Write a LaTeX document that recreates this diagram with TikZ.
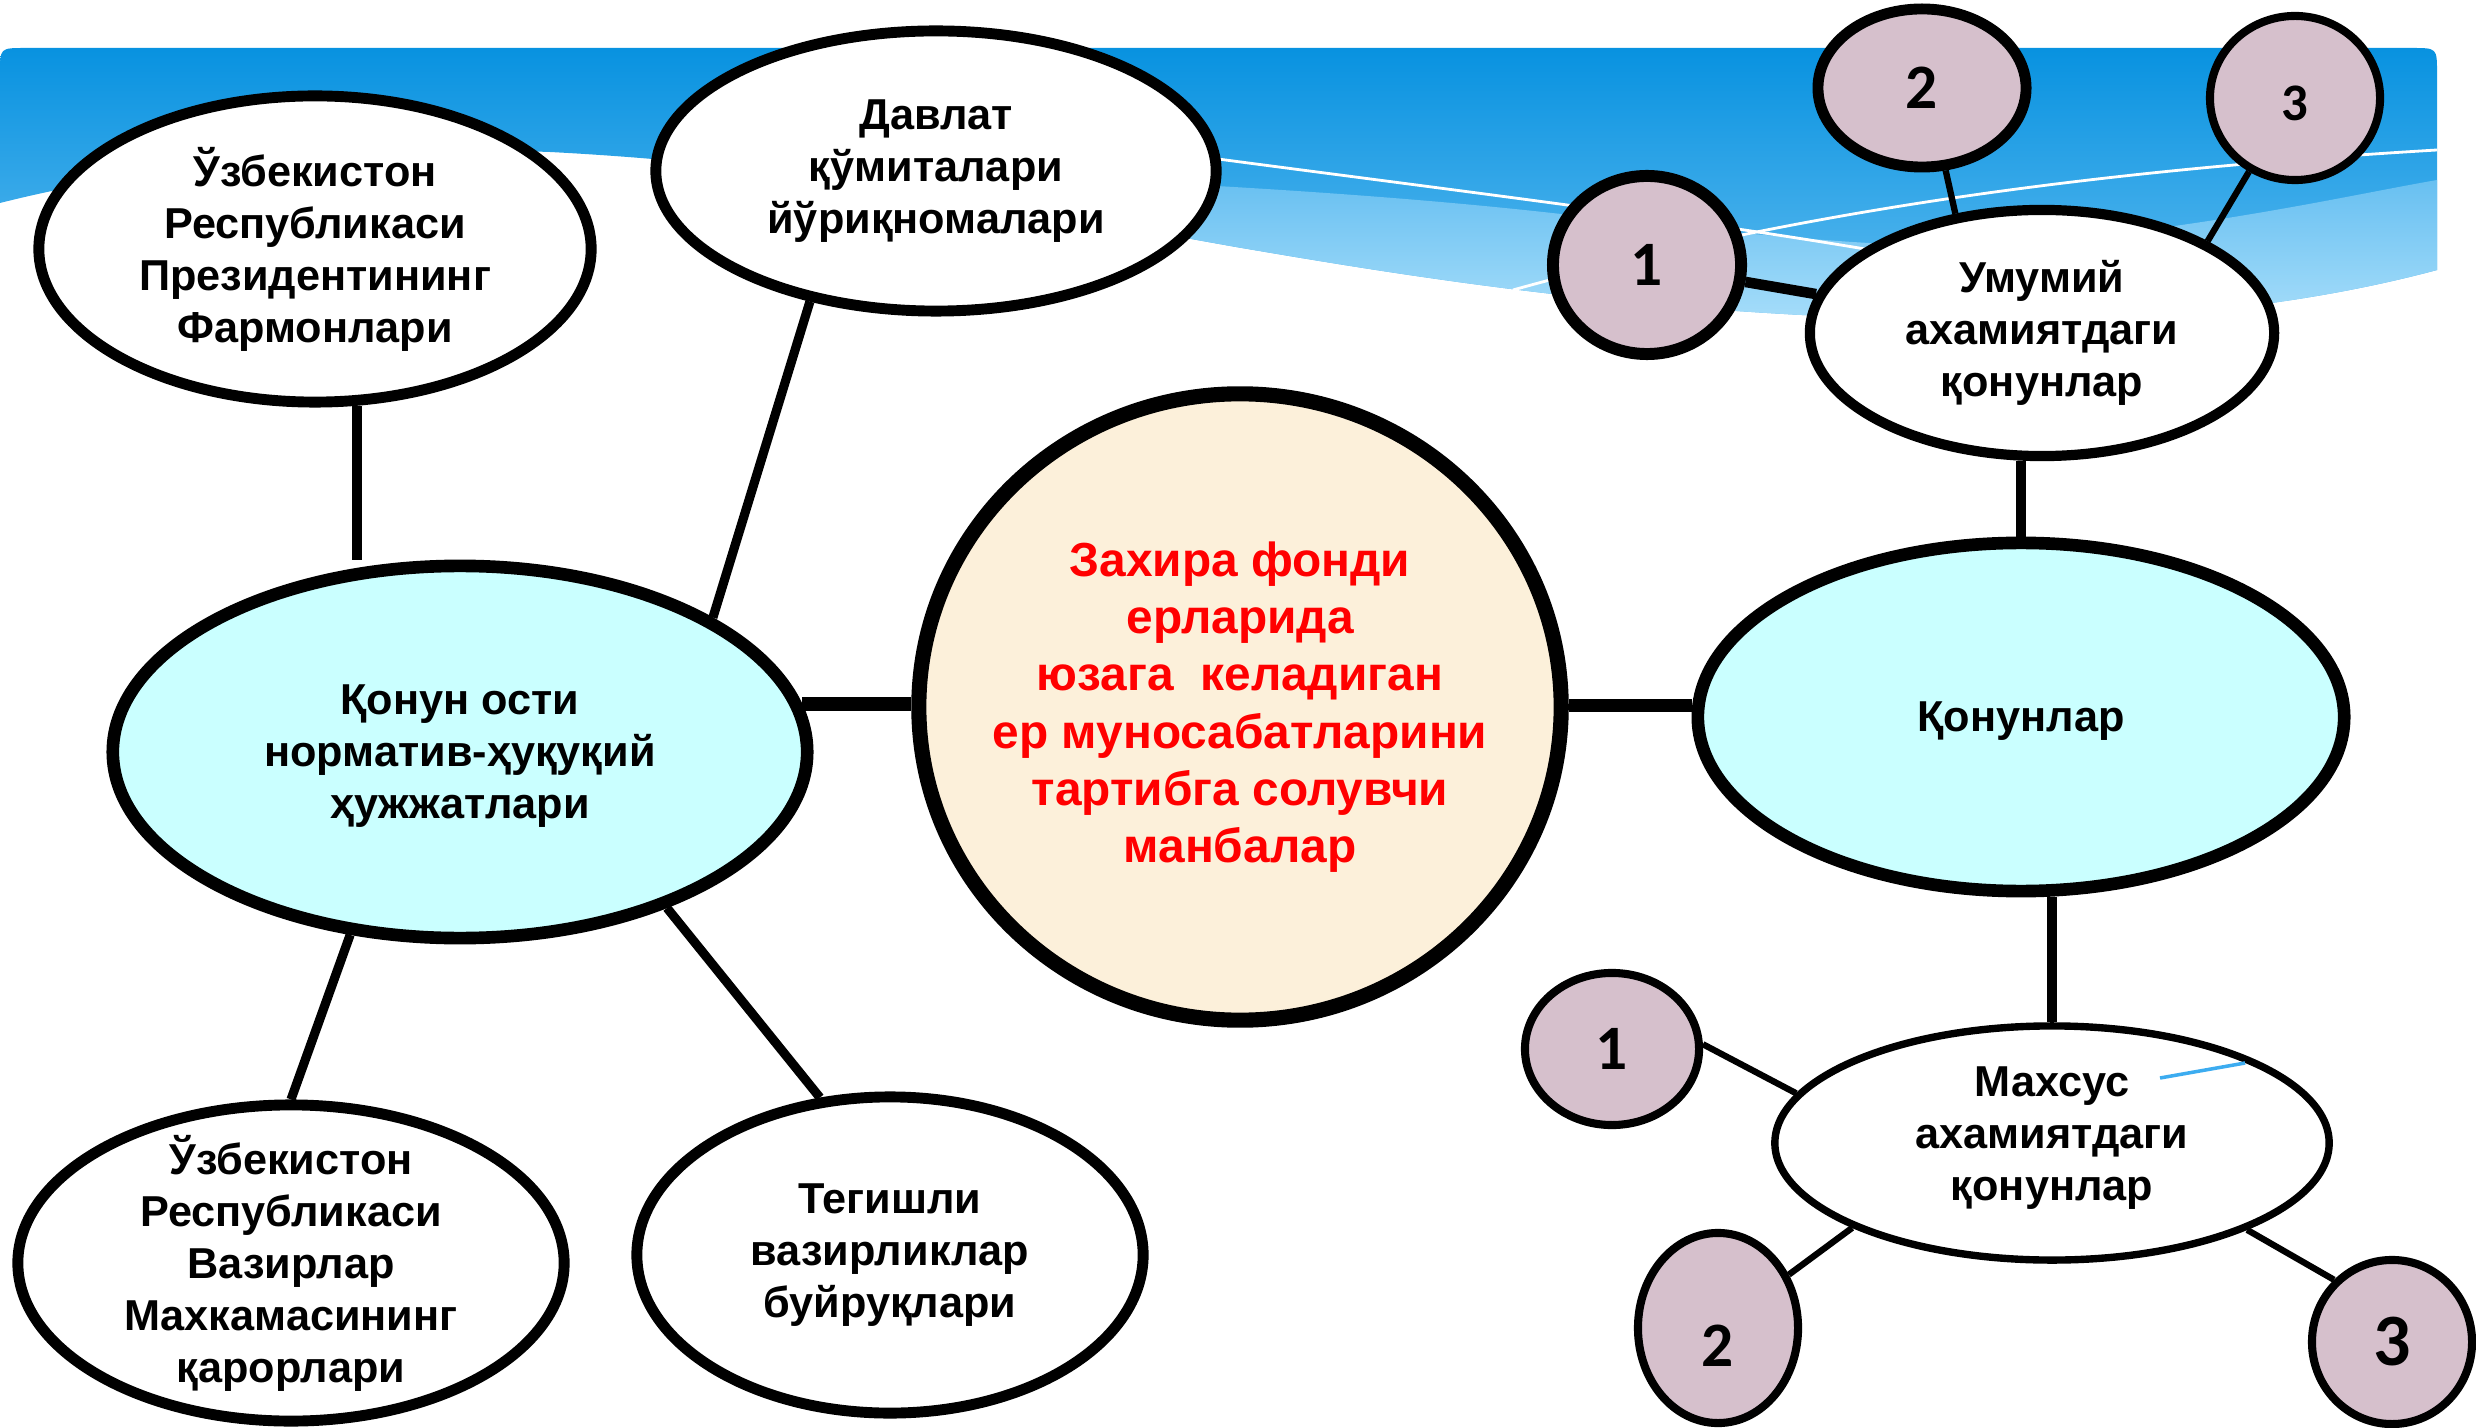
\documentclass[tikz,border=0pt]{standalone}
\usepackage{fontspec}
\setmainfont{Liberation Sans}
\newfontfamily\numfont{Carlito}
\usepackage{tikz}
\usetikzlibrary{calc,positioning,shapes.geometric}
\definecolor{skytop}{RGB}{8,146,224}
\definecolor{skybot}{RGB}{96,188,240}
\definecolor{skylight}{RGB}{168,222,250}
\definecolor{cream}{RGB}{252,240,218}
\definecolor{aqua}{RGB}{202,255,255}
\definecolor{mauve}{RGB}{214,192,204}
\definecolor{stray}{RGB}{60,172,240}

\begin{document}
\begin{tikzpicture}[x=0.01cm,y=-0.01cm]
\tikzstyle{bubble}=[draw, ellipse, inner sep=0pt, fill=white, line width=3.1pt]
\tikzstyle{lbl}=[align=center, inner sep=0pt, font=\bfseries\fontsize{12.3}{14.8}\selectfont]
\tikzstyle{num}=[draw, ellipse, inner sep=0pt, fill=mauve, line width=2.3pt, font=\numfont\bfseries\fontsize{18}{20}\selectfont]

\useasboundingbox (0,0) rectangle (2476,1428);
\fill[white] (0,0) rectangle (2476,1428);

% sky band
\shade[top color=skytop, bottom color=skybot] (0,203) -- (0,73) .. controls (0,48) .. (25,48) -- (2412,48) .. controls (2437,48) .. (2437,73) -- (2437,270)
  .. controls (2250,320) and (2050,325) .. (1868,318) .. controls (1600,308) and (1400,275) .. (1236,247)
  .. controls (1000,205) and (800,165) .. (550,152) .. controls (350,145) and (150,165) .. (0,203) -- cycle;
\shade[top color=skybot, bottom color=skylight] (700,163) .. controls (1000,175) and (1300,185) .. (1552,213)
  .. controls (1750,235) and (1900,250) .. (2000,245) .. controls (2200,230) and (2350,195) .. (2437,180) -- (2437,270)
  .. controls (2250,320) and (2050,325) .. (1868,318) .. controls (1600,308) and (1400,275) .. (1236,247)
  .. controls (1000,205) and (850,172) .. (700,163) -- cycle;
\draw[white, line width=0.8pt] (1150,150) .. controls (1450,190) and (1700,220) .. (1900,255);
\draw[white, line width=0.8pt] (1513,290) .. controls (1800,210) and (2100,170) .. (2437,150);

\node[bubble, fill=cream, line width=4.3pt, minimum width=6.42cm, minimum height=6.26cm,
  label={[lbl, text=red, font=\bfseries\fontsize{13.6}{16.3}\selectfont]center:{Захира фонди\\ерларида\\юзага~ келадиган\\ер муносабатларини\\тартибга солувчи\\манбалар}}] (Markaz) at (1240,707) {};
\node[bubble, fill=aqua, line width=3.6pt, minimum width=6.94cm, minimum height=3.72cm,
  label={[lbl, yshift=-0.04cm]center:{Қонун ости\\норматив-ҳуқуқий\\ҳужжатлари}}] (QonunOsti) at (460,752) {};
\node[bubble, fill=aqua, line width=3.6pt, minimum width=6.46cm, minimum height=3.48cm,
  label={[lbl, yshift=-0.04cm]center:Қонунлар}] (Qonunlar) at (2021,717) {};
\node[bubble, minimum width=5.52cm, minimum height=3.06cm,
  label={[lbl]center:{Ўзбекистон\\Республикаси\\Президентининг\\Фармонлари}}] (Prez) at (315,249) {};
\node[bubble, minimum width=5.60cm, minimum height=2.80cm,
  label={[lbl]center:{Давлат\\қўмиталари\\йўриқномалари}}] (Davlat) at (936,171) {};
\node[bubble, minimum width=5.46cm, minimum height=3.16cm,
  label={[lbl]center:{Ўзбекистон\\Республикаси\\Вазирлар\\Махкамасининг\\қарорлари}}] (Vazir) at (291,1263) {};
\node[bubble, minimum width=5.06cm, minimum height=3.16cm,
  label={[lbl]center:{Тегишли\\вазирликлар\\буйруқлари}}] (Tegishli) at (890,1255) {};
\node[bubble, line width=2.9pt, minimum width=4.64cm, minimum height=2.46cm,
  label={[lbl]center:{Умумий\\ахамиятдаги\\қонунлар}}] (Umumiy) at (2042,333) {};
\node[bubble, line width=2.1pt, minimum width=5.54cm, minimum height=2.34cm,
  label={[lbl, yshift=0.05cm]center:{Махсус\\ахамиятдаги\\қонунлар}}] (Maxsus) at (2052,1143) {};

\node[num, line width=3.4pt, minimum width=1.88cm, minimum height=1.78cm] (T1) at (1647,265) {1};
\node[num, line width=3.1pt, minimum width=2.08cm, minimum height=1.58cm] (T2) at (1922,88) {2};
\node[num, minimum width=1.70cm, minimum height=1.64cm, font=\numfont\bfseries\fontsize{15}{17}\selectfont] (T3) at (2295,98) {\raisebox{-6.5pt}[0pt][0pt]{3}};
\node[num, minimum width=1.74cm, minimum height=1.52cm] (B1) at (1612,1049) {1};
\node[num, minimum width=1.60cm, minimum height=1.90cm] (B2) at (1718,1328) {\raisebox{-11pt}[0pt][0pt]{2}};
\node[num, minimum width=1.60cm, minimum height=1.64cm, font=\numfont\bfseries\fontsize{21}{23}\selectfont] (B3) at (2392,1342) {3};

\draw[line width=3.8pt] (QonunOsti.8) -- (QonunOsti.8 -| Markaz.west);
\draw[line width=3.8pt] (Qonunlar.178) -- (Qonunlar.178 -| Markaz.east);
\draw[line width=3pt] (Prez.-75) -- (Prez.-75 |- QonunOsti.north);
\draw[line width=2.8pt] (Qonunlar.north) -- (Qonunlar.north |- Umumiy.south);
\draw[line width=3pt] (Maxsus.north) -- (Maxsus.north |- Qonunlar.south);
\foreach \i/\j/\w in {Davlat.226/QonunOsti.28/2.6, QonunOsti.239/Vazir.north/2.6, QonunOsti.-37/Tegishli.114/2.6,
  T1/Umumiy/3, T2.-74/Umumiy.126/1.8, T3.238/Umumiy.29/1.8,
  B1.3/Maxsus.169/1.8, B2.37/Maxsus.203/1.8, Maxsus.-24/B3.133/1.8}{\draw[line width=\w pt] (\i) -- (\j);}
\draw[stray, line width=1pt] (2160,1078) -- (2245,1063);
\end{tikzpicture}
\end{document}
